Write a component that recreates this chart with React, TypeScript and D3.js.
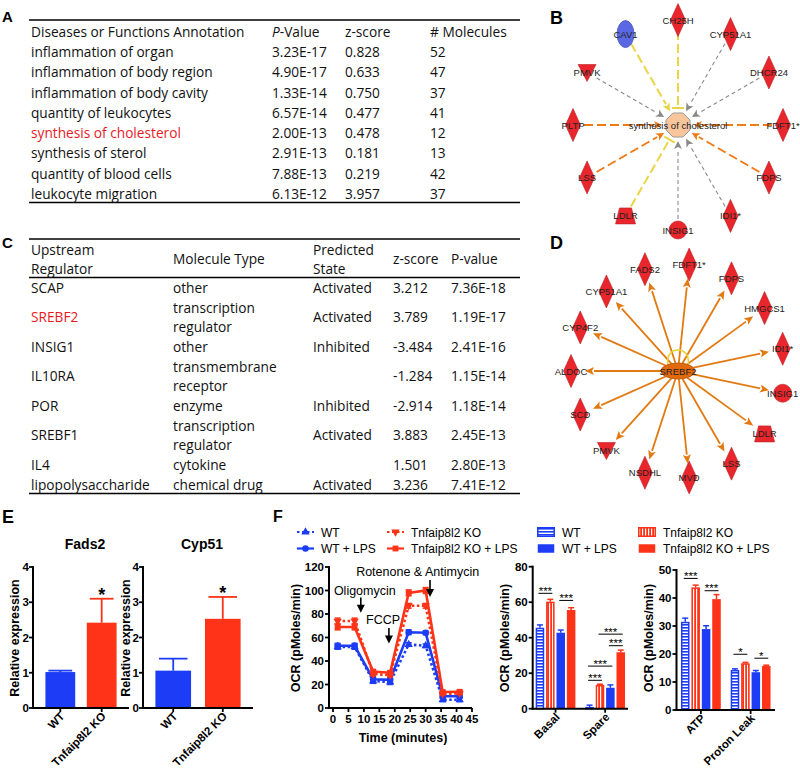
import React from "react";
import * as d3 from "d3";

// ---------------- Panel A: Diseases or Functions ----------------
const annotNames = [
  "inflammation of organ",
  "inflammation of body region",
  "inflammation of body cavity",
  "quantity of leukocytes",
  "synthesis of cholesterol",
  "synthesis of sterol",
  "quantity of blood cells",
  "leukocyte migration",
];
const annotP = ["3.23E-17", "4.90E-17", "1.33E-14", "6.57E-14", "2.00E-13", "2.91E-13", "7.88E-13", "6.13E-12"];
const annotZ = ["0.828", "0.633", "0.750", "0.477", "0.478", "0.181", "0.219", "3.957"];
const annotN = ["52", "47", "37", "41", "12", "13", "42", "37"];
const annotHighlight = "synthesis of cholesterol";

// ---------------- Panel C: Upstream regulators ----------------
const regNames = ["SCAP", "SREBF2", "INSIG1", "IL10RA", "POR", "SREBF1", "IL4", "lipopolysaccharide"];
const regTypeLines = [
  ["other"],
  ["transcription", "regulator"],
  ["other"],
  ["transmembrane", "receptor"],
  ["enzyme"],
  ["transcription", "regulator"],
  ["cytokine"],
  ["chemical drug"],
];
const regStates = ["Activated", "Activated", "Inhibited", "", "Inhibited", "Activated", "", "Activated"];
const regZ = ["3.212", "3.789", "-3.484", "-1.284", "-2.914", "3.883", "1.501", "3.236"];
const regP = ["7.36E-18", "1.19E-17", "2.41E-16", "1.15E-14", "1.18E-14", "2.45E-13", "2.80E-13", "7.41E-12"];
const regHighlight = "SREBF2";

// ---------------- Panel B: network ----------------
const bCenterLabel = "synthesis of cholesterol";
const bNodes = ["CH25H", "CYP51A1", "DHCR24", "FDFT1*", "FDPS", "IDI1*", "INSIG1", "LDLR", "LSS", "PLTP", "PMVK", "CAV1"];
const bTypes = ["enzyme", "enzyme", "enzyme", "enzyme", "enzyme", "enzyme", "other", "transporter", "enzyme", "enzyme", "kinase", "receptor"];
const bRegulation = ["up", "up", "up", "up", "up", "up", "up", "up", "up", "up", "up", "down"];
const bEdgeKind = ["inconsistent", "unpredicted", "unpredicted", "activation", "activation", "unpredicted", "unpredicted", "inconsistent", "activation", "activation", "unpredicted", "inconsistent"];
const bEdgeEnd = ["inhibit", "arrow", "arrow", "arrow", "arrow", "arrow", "arrow", "inhibit", "arrow", "arrow", "arrow", "arrow"];

// ---------------- Panel D: network ----------------
const dCenterLabel = "SREBF2";
const dNodes = ["FDFT1*", "FDPS", "HMGCS1", "IDI1*", "INSIG1", "LDLR", "LSS", "MVD", "NSDHL", "PMVK", "SCD", "ALDOC", "CYP4F2", "CYP51A1", "FADS2"];
const dTypes = ["enzyme", "enzyme", "enzyme", "enzyme", "other", "transporter", "enzyme", "enzyme", "enzyme", "kinase", "enzyme", "enzyme", "enzyme", "enzyme", "enzyme"];

// ---------------- Panel E ----------------
const eGroups = ["WT", "Tnfaip8l2 KO"];
const fads2Values = [1.02, 2.42];
const fads2Errs = [0.04, 0.68];
const cyp51Values = [1.06, 2.53];
const cyp51Errs = [0.34, 0.62];
const eTicks = [0, 1, 2, 3, 4];

// ---------------- Panel F: OCR time course ----------------
const ocrTimes = [1.5, 7, 13, 18.5, 24.5, 30, 35.5, 41];
const ocrWT = [52, 52, 23, 22, 54, 53, 7, 7];
const ocrWTErr = [2, 2, 2, 2, 1.5, 1.5, 1.5, 1.5];
const ocrWTLPS = [53, 53, 24.5, 24, 64.5, 64, 10, 10];
const ocrWTLPSErr = [2, 2, 2, 2, 2, 1.5, 1.5, 1.5];
const ocrKO = [74, 74, 29, 28, 87, 87, 12, 12.5];
const ocrKOErr = [2.5, 2.5, 1.5, 1.5, 2, 2, 1, 1];
const ocrKOLPS = [69, 69, 31, 30, 98, 100, 13.6, 13.8];
const ocrKOLPSErr = [2.5, 2.5, 1.5, 1.5, 2.5, 2.5, 1, 1];
const ocrXTicks = [0, 5, 10, 15, 20, 25, 30, 35, 40, 45];
const ocrYTicks = [0, 20, 40, 60, 80, 100, 120];
const injections = [
  { label: "Oligomycin", t: 9, textT: 10.3, textY: 100, arrowFrom: 94, arrowTo: 81 },
  { label: "FCCP", t: 18.1, textT: 16.2, textY: 75, arrowFrom: 68, arrowTo: 55 },
  { label: "Rotenone & Antimycin", t: 31.4, textT: 27.4, textY: 116, arrowFrom: 109, arrowTo: 94.5 },
];

// ---------------- Panel F: bar summaries ----------------
const fSeries = ["WT", "Tnfaip8l2 KO", "WT + LPS", "Tnfaip8l2 KO + LPS"];
const capGroups = ["Basal", "Spare"];
const capValues = [
  [45.6, 1.0],
  [60.3, 13.4],
  [42.8, 11.8],
  [55.6, 31.8],
];
const capErrs = [
  [1.6, 1.0],
  [1.3, 0.4],
  [1.5, 1.6],
  [1.3, 1.2],
];
const capTicks = [0, 20, 40, 60, 80];
const capSigs = [
  { group: "Basal", a: 0, b: 1, y: 65, label: "***" },
  { group: "Basal", a: 2, b: 3, y: 61, label: "***" },
  { group: "Spare", a: 0, b: 1, y: 16, label: "***" },
  { group: "Spare", a: 0, b: 2, y: 24, label: "***" },
  { group: "Spare", a: 1, b: 3, y: 42, label: "***" },
  { group: "Spare", a: 2, b: 3, y: 35.5, label: "***" },
];
const atpGroups = ["ATP", "Proton Leak"];
const atpValues = [
  [31.5, 14.3],
  [43.8, 16.7],
  [28.9, 13.5],
  [39.6, 15.7],
];
const atpErrs = [
  [1.3, 0.4],
  [0.8, 0.3],
  [1.2, 0.6],
  [1.6, 0.3],
];
const atpTicks = [0, 10, 20, 30, 40, 50];
const atpSigs = [
  { group: "ATP", a: 0, b: 1, y: 47, label: "***" },
  { group: "ATP", a: 2, b: 3, y: 42.6, label: "***" },
  { group: "Proton Leak", a: 0, b: 1, y: 19.9, label: "*" },
  { group: "Proton Leak", a: 2, b: 3, y: 18.5, label: "*" },
];

// ---------------- styles ----------------
const ARIAL = "'Liberation Sans', Arial, sans-serif";
const TABLE_FONT = "'Open Sans', Lato, sans-serif";
const BLUE = "#1c3cf6";
const RED = "#ff3317";
const NODE_RED = "#e8262b";
const NODE_BLUE = "#5a68e4";
const EDGE_COLORS: Record<string, string> = {
  activation: "#f07a16",
  inconsistent: "#e9d545",
  unpredicted: "#8a8a8a",
};

function PanelLabel({ x, y, text, size = 18 }: any) {
  return (
    <text x={x} y={y} fontFamily={ARIAL} fontWeight="bold" fontSize={size} fill="#000">
      {text}
    </text>
  );
}

// ================= Tables =================
function TableA() {
  const rows = d3.scalePoint<number>().domain(d3.range(annotNames.length)).range([52, 194]);
  const cols = [31, 272, 345, 430];
  const fs = 13.7;
  return (
    <g fontFamily={TABLE_FONT} fontSize={fs} fill="#111">
      <line x1={29} x2={520} y1={20} y2={20} stroke="#000" strokeWidth={1.5} />
      <line x1={29} x2={520} y1={202.5} y2={202.5} stroke="#000" strokeWidth={1.5} />
      <text x={cols[0]} y={37}>Diseases or Functions Annotation</text>
      <text x={cols[1]} y={37}>
        <tspan fontStyle="italic">P</tspan>-Value
      </text>
      <text x={cols[2]} y={37}>z-score</text>
      <text x={cols[3]} y={37}># Molecules</text>
      {annotNames.map((n, i) => {
        const y = (rows(i) as number) + 5;
        return (
          <g key={n}>
            <text x={cols[0]} y={y} fill={n === annotHighlight ? "#e8191f" : "#111"}>{n}</text>
            <text x={cols[1]} y={y}>{annotP[i]}</text>
            <text x={cols[2]} y={y}>{annotZ[i]}</text>
            <text x={cols[3]} y={y}>{annotN[i]}</text>
          </g>
        );
      })}
    </g>
  );
}

function TableC() {
  const cols = [31, 173, 313, 393, 451];
  const fs = 13.7;
  const lineH = 19.65;
  const line = d3.scaleLinear().domain([0, 1]).range([288, 288 + lineH]);
  let idx = 0;
  const rowsLayout = regNames.map((n, i) => {
    const nLines = regTypeLines[i].length;
    const start = idx;
    idx += nLines;
    return { start, nLines, center: line(start + (nLines - 1) / 2) };
  });
  return (
    <g fontFamily={TABLE_FONT} fontSize={fs} fill="#111">
      <line x1={29} x2={520} y1={239} y2={239} stroke="#000" strokeWidth={1.5} />
      <line x1={29} x2={520} y1={277.5} y2={277.5} stroke="#000" strokeWidth={1.5} />
      <line x1={29} x2={520} y1={493.5} y2={493.5} stroke="#000" strokeWidth={1.5} />
      <text x={cols[0]} y={255}>Upstream</text>
      <text x={cols[0]} y={274}>Regulator</text>
      <text x={cols[1]} y={264}>Molecule Type</text>
      <text x={cols[2]} y={255}>Predicted</text>
      <text x={cols[2]} y={274}>State</text>
      <text x={cols[3]} y={264}>z-score</text>
      <text x={cols[4]} y={264}>P-value</text>
      {regNames.map((n, i) => {
        const r = rowsLayout[i];
        const y = r.center + 5;
        return (
          <g key={n}>
            <text x={cols[0]} y={y} fill={n === regHighlight ? "#e8191f" : "#111"}>{n}</text>
            {regTypeLines[i].map((t, k) => (
              <text key={k} x={cols[1]} y={line(r.start + k) + 5}>{t}</text>
            ))}
            <text x={cols[2]} y={y}>{regStates[i]}</text>
            <text x={cols[3]} y={y}>{regZ[i]}</text>
            <text x={cols[4]} y={y}>{regP[i]}</text>
          </g>
        );
      })}
    </g>
  );
}

// ================= Networks =================
function NodeShape({ type, fill }: any) {
  const stroke = d3.color(fill)!.darker(0.6).toString();
  if (type === "enzyme") return <path d="M0,-16.5L7.5,0L0,16.5L-7.5,0Z" fill={fill} stroke={stroke} strokeWidth={0.6} />;
  if (type === "kinase") return <path d="M-9,-8L9,-8L0,9Z" fill={fill} stroke={stroke} strokeWidth={0.6} />;
  if (type === "other") return <circle r={9} fill={fill} stroke={stroke} strokeWidth={0.6} />;
  if (type === "transporter") return <path d="M-6,-8L6,-8L10,8L-10,8Z" fill={fill} stroke={stroke} strokeWidth={0.6} />;
  if (type === "receptor") return <ellipse rx={8.5} ry={13.5} fill={fill} stroke={stroke} strokeWidth={0.8} />;
  return <circle r={8} fill={fill} />;
}

function NetworkB() {
  const cx = 678, cy = 125, R = 105;
  const ang = d3.scaleLinear().domain([0, bNodes.length]).range([-Math.PI / 2, (3 * Math.PI) / 2]);
  const oct = d3.range(8).map((k) => {
    const a = (k * Math.PI) / 4 + Math.PI / 8;
    return [cx + 13 * Math.cos(a), cy + 13 * Math.sin(a)];
  });
  return (
    <g fontFamily={ARIAL}>
      {bNodes.map((n, i) => {
        const a = ang(i);
        const ux = Math.cos(a), uy = Math.sin(a);
        const kind = bEdgeKind[i];
        const col = EDGE_COLORS[kind];
        const endR = bEdgeEnd[i] === "inhibit" ? 17 : 16;
        const sx = cx + ux * (R - 11), sy = cy + uy * (R - 11);
        const ex = cx + ux * endR, ey = cy + uy * endR;
        const dash = kind === "unpredicted" ? "4,3" : "9,4";
        const sw = kind === "unpredicted" ? 1.1 : 2;
        const ah = 8, aw = 4;
        const bx = ex + ux * ah, by = ey + uy * ah;
        return (
          <g key={n}>
            <line x1={sx} y1={sy} x2={bEdgeEnd[i] === "arrow" ? bx : ex} y2={bEdgeEnd[i] === "arrow" ? by : ey} stroke={col} strokeWidth={sw} strokeDasharray={dash} />
            {bEdgeEnd[i] === "arrow" ? (
              <path d={`M${ex},${ey}L${bx - uy * aw},${by + ux * aw}L${bx + ux * -2},${by + uy * -2}L${bx + uy * aw},${by - ux * aw}Z`} fill={col} />
            ) : (
              <line x1={ex - uy * 6} y1={ey + ux * 6} x2={ex + uy * 6} y2={ey - ux * 6} stroke={col} strokeWidth={2} />
            )}
          </g>
        );
      })}
      <polygon points={oct.map((p) => p.join(",")).join(" ")} fill="#f8c59c" stroke="#9a9a9a" strokeWidth={1} />
      <text x={cx} y={cy + 3.5} textAnchor="middle" fontSize={9.5} fill="#222">{bCenterLabel}</text>
      {bNodes.map((n, i) => {
        const a = ang(i);
        const x = cx + Math.cos(a) * R, y = cy + Math.sin(a) * R;
        return (
          <g key={n} transform={`translate(${x},${y})`}>
            <NodeShape type={bTypes[i]} fill={bRegulation[i] === "up" ? NODE_RED : NODE_BLUE} />
            <text y={3.5} textAnchor="middle" fontSize={9.5} fill="#222">{n}</text>
          </g>
        );
      })}
    </g>
  );
}

function NetworkD() {
  const cx = 678, cy = 371, R = 107;
  const start = (-84 * Math.PI) / 180;
  const ang = d3.scaleLinear().domain([0, dNodes.length]).range([start, start + 2 * Math.PI]);
  const col = "#e27a12";
  return (
    <g fontFamily={ARIAL}>
      {dNodes.map((n, i) => {
        const a = ang(i);
        const ux = Math.cos(a), uy = Math.sin(a);
        const sr = Math.sqrt(1 / ((ux * ux) / (17 * 17) + (uy * uy) / (8 * 8)));
        const sx = cx + ux * sr, sy = cy + uy * sr;
        const ex = cx + ux * (R - 14), ey = cy + uy * (R - 14);
        const ah = 9, aw = 4;
        const bx = ex - ux * ah, by = ey - uy * ah;
        return (
          <g key={n}>
            <line x1={sx} y1={sy} x2={bx} y2={by} stroke={col} strokeWidth={1.8} />
            <path d={`M${ex},${ey}L${bx - uy * aw},${by + ux * aw}L${bx + ux * 2},${by + uy * 2}L${bx + uy * aw},${by - ux * aw}Z`} fill={col} />
          </g>
        );
      })}
      <path d={`M${cx - 10},${cy - 6} C${cx - 14},${cy - 26} ${cx + 14},${cy - 26} ${cx + 10},${cy - 6}`} fill="none" stroke="#e9d030" strokeWidth={1.5} />
      <ellipse cx={cx} cy={cy} rx={17} ry={8} fill="#e3690d" stroke="#b2500a" strokeWidth={0.8} />
      <text x={cx} y={cy + 3.5} textAnchor="middle" fontSize={9.5} fill="#222">{dCenterLabel}</text>
      {dNodes.map((n, i) => {
        const a = ang(i);
        const x = cx + Math.cos(a) * R, y = cy + Math.sin(a) * R;
        return (
          <g key={n} transform={`translate(${x},${y})`}>
            <NodeShape type={dTypes[i]} fill={NODE_RED} />
            <text y={3.5} textAnchor="middle" fontSize={9.5} fill="#222">{n}</text>
          </g>
        );
      })}
    </g>
  );
}

// ================= Panel E =================
function ExprChart({ left, right, title, values, errs, labelX, po }: any) {
  const y = d3.scaleLinear().domain([0, 4]).range([708, 567]);
  const x = d3.scaleBand<string>().domain(eGroups).range([left, right]).paddingInner(0.28).paddingOuter(po);
  const colors = [BLUE, RED];
  return (
    <g fontFamily={ARIAL}>
      <text x={(left + right) / 2 + 4} y={549} textAnchor="middle" fontWeight="bold" fontSize={14}>{title}</text>
      {eGroups.map((g, i) => {
        const bx = x(g)!, bw = x.bandwidth();
        const top = y(values[i]);
        const et = y(values[i] + errs[i]);
        const cxm = bx + bw / 2;
        return (
          <g key={g}>
            <line x1={cxm} x2={cxm} y1={top} y2={et} stroke={colors[i]} strokeWidth={1.8} />
            <line x1={cxm - bw * 0.4} x2={cxm + bw * 0.4} y1={et} y2={et} stroke={colors[i]} strokeWidth={1.8} />
            <rect x={bx} y={top} width={bw} height={y(0) - top} fill={colors[i]} />
            {i === 1 && (
              <text x={cxm} y={et + 2} textAnchor="middle" fontWeight="bold" fontSize={18}>*</text>
            )}
            <line x1={cxm} x2={cxm} y1={708} y2={712} stroke="#000" strokeWidth={1.8} />
            <text transform={`translate(${cxm + 5},${717}) rotate(-45)`} textAnchor="end" fontWeight="bold" fontSize={11.5}>{g}</text>
          </g>
        );
      })}
      <line x1={left} x2={left} y1={566} y2={709} stroke="#000" strokeWidth={2} />
      <line x1={left - 1} x2={right} y1={708} y2={708} stroke="#000" strokeWidth={2} />
      {eTicks.map((t) => (
        <g key={t}>
          <line x1={left - 4} x2={left} y1={y(t)} y2={y(t)} stroke="#000" strokeWidth={1.8} />
          <text x={left - 4} y={y(t) + 4} textAnchor="end" fontWeight="bold" fontSize={11.5}>{t}</text>
        </g>
      ))}
      <text transform={`translate(${labelX},${638}) rotate(-90)`} textAnchor="middle" fontWeight="bold" fontSize={12.5}>Relative expression</text>
    </g>
  );
}

// ================= Panel F line chart =================
function Marker({ kind, x, y, color }: any) {
  if (kind === "triUp") return <path transform={`translate(${x},${y})`} d={d3.symbol(d3.symbolTriangle, 30)()!} fill={color} />;
  if (kind === "triDown") return <path transform={`translate(${x},${y}) rotate(180)`} d={d3.symbol(d3.symbolTriangle, 30)()!} fill={color} />;
  if (kind === "square") return <path transform={`translate(${x},${y})`} d={d3.symbol(d3.symbolSquare, 34)()!} fill={color} />;
  return <path transform={`translate(${x},${y})`} d={d3.symbol(d3.symbolCircle, 34)()!} fill={color} />;
}

function OCRChart() {
  const x = d3.scaleLinear().domain([0, 45]).range([333, 472]);
  const y = d3.scaleLinear().domain([0, 120]).range([708, 567]);
  const series = [
    { name: "WT", vals: ocrWT, errs: ocrWTErr, color: BLUE, dash: "2.5,2.5", marker: "triUp" },
    { name: "WT + LPS", vals: ocrWTLPS, errs: ocrWTLPSErr, color: BLUE, dash: "", marker: "circle" },
    { name: "Tnfaip8l2 KO", vals: ocrKO, errs: ocrKOErr, color: RED, dash: "2.5,2.5", marker: "triDown" },
    { name: "Tnfaip8l2 KO + LPS", vals: ocrKOLPS, errs: ocrKOLPSErr, color: RED, dash: "", marker: "square" },
  ];
  const line = d3.line<number>().x((_, i) => x(ocrTimes[i])).y((v) => y(v));
  const legendPos = [
    [297, 532],
    [297, 548.5],
    [387, 532],
    [387, 548.5],
  ];
  return (
    <g fontFamily={ARIAL}>
      {series.map((s) => (
        <g key={s.name}>
          {s.vals.map((v, i) => (
            <g key={i}>
              <line x1={x(ocrTimes[i])} x2={x(ocrTimes[i])} y1={y(v - s.errs[i])} y2={y(v + s.errs[i])} stroke={s.color} strokeWidth={1.5} />
              <line x1={x(ocrTimes[i]) - 3} x2={x(ocrTimes[i]) + 3} y1={y(v - s.errs[i])} y2={y(v - s.errs[i])} stroke={s.color} strokeWidth={1.5} />
              <line x1={x(ocrTimes[i]) - 3} x2={x(ocrTimes[i]) + 3} y1={y(v + s.errs[i])} y2={y(v + s.errs[i])} stroke={s.color} strokeWidth={1.5} />
            </g>
          ))}
          <path d={line(s.vals)!} fill="none" stroke={s.color} strokeWidth={2.6} strokeDasharray={s.dash || undefined} />
          {s.vals.map((v, i) => (
            <Marker key={i} kind={s.marker} x={x(ocrTimes[i])} y={y(v)} color={s.color} />
          ))}
        </g>
      ))}
      <line x1={329} x2={329} y1={566} y2={709} stroke="#000" strokeWidth={2} />
      <line x1={328} x2={x(45)} y1={708} y2={708} stroke="#000" strokeWidth={2} />
      {ocrYTicks.map((t) => (
        <g key={t}>
          <line x1={325} x2={329} y1={y(t)} y2={y(t)} stroke="#000" strokeWidth={1.8} />
          <text x={324} y={y(t) + 4} textAnchor="end" fontWeight="bold" fontSize={11.5}>{t}</text>
        </g>
      ))}
      {ocrXTicks.map((t) => (
        <g key={t}>
          <line x1={x(t)} x2={x(t)} y1={708} y2={712} stroke="#000" strokeWidth={1.8} />
          <text x={x(t)} y={723} textAnchor="middle" fontWeight="bold" fontSize={11.5}>{t}</text>
        </g>
      ))}
      <text transform={`translate(300,638) rotate(-90)`} textAnchor="middle" fontWeight="bold" fontSize={12.5}>OCR (pMoles/min)</text>
      <text x={403} y={742} textAnchor="middle" fontWeight="bold" fontSize={12.5}>Time (minutes)</text>
      {injections.map((inj) => {
        const ax = x(inj.t);
        const tip = y(inj.arrowTo);
        return (
          <g key={inj.label}>
            <text x={x(inj.textT)} y={y(inj.textY) + 4.5} textAnchor="middle" fontSize={12.5}>{inj.label}</text>
            <line x1={ax} x2={ax} y1={y(inj.arrowFrom)} y2={tip - 6} stroke="#000" strokeWidth={1.6} />
            <path d={`M${ax - 4},${tip - 8}L${ax + 4},${tip - 8}L${ax},${tip}Z`} fill="#000" />
          </g>
        );
      })}
      {series.map((s, i) => {
        const [lx, ly] = legendPos[i];
        return (
          <g key={s.name}>
            <line x1={lx} x2={lx + 17} y1={ly} y2={ly} stroke={s.color} strokeWidth={2.2} strokeDasharray={s.dash || undefined} />
            <Marker kind={s.marker} x={lx + 8.5} y={ly} color={s.color} />
            <text x={lx + 24} y={ly + 4.5} fontSize={12}>{s.name}</text>
          </g>
        );
      })}
    </g>
  );
}

// ================= Panel F bar charts =================
const fFills = ["url(#hstripe)", "url(#vstripe)", BLUE, RED];
const fStrokes = [BLUE, RED, BLUE, RED];

function SummaryBars({ left, right, y0, y1, max, ticks, groups, values, errs, sigs, labelX, po }: any) {
  const y = d3.scaleLinear().domain([0, max]).range([y0, y1]);
  const x0 = d3.scaleBand<string>().domain(groups).range([left, right]).paddingInner(0.2).paddingOuter(po);
  const x1 = d3.scaleBand<number>().domain(d3.range(fSeries.length)).range([0, x0.bandwidth()]).paddingInner(0.18);
  const bw = x1.bandwidth();
  return (
    <g fontFamily={ARIAL}>
      {groups.map((g: string, gi: number) => (
        <g key={g}>
          {fSeries.map((s, si) => {
            const bx = x0(g)! + x1(si)!;
            const v = values[si][gi];
            const top = y(v);
            const et = y(v + errs[si][gi]);
            const cxm = bx + bw / 2;
            const striped = si < 2;
            return (
              <g key={s}>
                <line x1={cxm} x2={cxm} y1={top} y2={et} stroke={fStrokes[si]} strokeWidth={1.5} />
                <line x1={cxm - bw * 0.35} x2={cxm + bw * 0.35} y1={et} y2={et} stroke={fStrokes[si]} strokeWidth={1.5} />
                <rect
                  x={striped ? bx + 0.75 : bx}
                  y={striped ? top + 0.75 : top}
                  width={striped ? bw - 1.5 : bw}
                  height={Math.max(0, y0 - top - (striped ? 0.75 : 0))}
                  fill={fFills[si]}
                  stroke={striped ? fStrokes[si] : "none"}
                  strokeWidth={1.5}
                />
              </g>
            );
          })}
          <line x1={x0(g)! + x0.bandwidth() / 2} x2={x0(g)! + x0.bandwidth() / 2} y1={y0} y2={y0 + 4} stroke="#000" strokeWidth={1.8} />
          <text transform={`translate(${x0(g)! + x0.bandwidth() / 2 + 5},${y0 + 9}) rotate(-45)`} textAnchor="end" fontWeight="bold" fontSize={11.5}>{g}</text>
        </g>
      ))}
      {sigs.map((sg: any, k: number) => {
        const xa = x0(sg.group)! + x1(sg.a)! + bw / 2 - 1.5;
        const xb = x0(sg.group)! + x1(sg.b)! + bw / 2 + 2;
        const yy = y(sg.y);
        return (
          <g key={k}>
            <line x1={xa} x2={xb} y1={yy} y2={yy} stroke="#000" strokeWidth={1} />
            <text x={(xa + xb) / 2} y={yy + 1.5} textAnchor="middle" fontSize={11.5}>{sg.label}</text>
          </g>
        );
      })}
      <line x1={left} x2={left} y1={y1 - 1} y2={y0 + 1} stroke="#000" strokeWidth={2} />
      <line x1={left - 1} x2={right} y1={y0} y2={y0} stroke="#000" strokeWidth={2} />
      {ticks.map((t: number) => (
        <g key={t}>
          <line x1={left - 4} x2={left} y1={y(t)} y2={y(t)} stroke="#000" strokeWidth={1.8} />
          <text x={left - 5} y={y(t) + 4} textAnchor="end" fontWeight="bold" fontSize={11.5}>{t}</text>
        </g>
      ))}
      <text transform={`translate(${labelX},638) rotate(-90)`} textAnchor="middle" fontWeight="bold" fontSize={12.5}>OCR (pMoles/min)</text>
    </g>
  );
}

function BarLegend() {
  const pos = [
    [537, 532],
    [638, 532],
    [537, 548.5],
    [638, 548.5],
  ];
  return (
    <g fontFamily={ARIAL}>
      {fSeries.map((s, i) => {
        const [lx, ly] = pos[i];
        const striped = i < 2;
        return (
          <g key={s}>
            <rect x={lx + 0.75} y={ly - 4.25} width={16.5} height={8.5} fill={fFills[i]} stroke={striped ? fStrokes[i] : "none"} strokeWidth={1.5} />
            <text x={lx + 25} y={ly + 4.5} fontSize={12}>{s}</text>
          </g>
        );
      })}
    </g>
  );
}

export default function App() {
  return (
    <svg width={800} height={768} style={{ position: "absolute", left: 0, top: 0, background: "#fff" }}>
      <defs>
        <pattern id="hstripe" width={4} height={3} patternUnits="userSpaceOnUse">
          <rect width={4} height={3} fill="#fff" />
          <rect width={4} height={1.6} fill={BLUE} />
        </pattern>
        <pattern id="vstripe" width={3} height={4} patternUnits="userSpaceOnUse">
          <rect width={3} height={4} fill={RED} />
          <rect width={1.2} height={4} fill="#fff" />
        </pattern>
      </defs>
      <rect width={800} height={768} fill="#fff" />
      <PanelLabel x={2} y={22} text="A" size={15} />
      <PanelLabel x={550} y={24} text="B" size={18} />
      <PanelLabel x={2} y={248} text="C" size={15} />
      <PanelLabel x={550} y={249} text="D" size={18} />
      <PanelLabel x={2} y={523} text="E" size={18} />
      <PanelLabel x={273} y={522} text="F" size={16} />
      <TableA />
      <TableC />
      <NetworkB />
      <NetworkD />
      <ExprChart left={33} right={129} title="Fads2" values={fads2Values} errs={fads2Errs} labelX={19} po={0.3} />
      <ExprChart left={143} right={253} title="Cyp51" values={cyp51Values} errs={cyp51Errs} labelX={130} po={0.25} />
      <OCRChart />
      <SummaryBars left={532.7} right={628} y0={708.7} y1={566.7} max={80} ticks={capTicks} groups={capGroups} values={capValues} errs={capErrs} sigs={capSigs} labelX={509} po={0.06} />
      <SummaryBars left={676.5} right={775} y0={710} y1={570} max={50} ticks={atpTicks} groups={atpGroups} values={atpValues} errs={atpErrs} sigs={atpSigs} labelX={653} po={0.09} />
      <BarLegend />
    </svg>
  );
}
